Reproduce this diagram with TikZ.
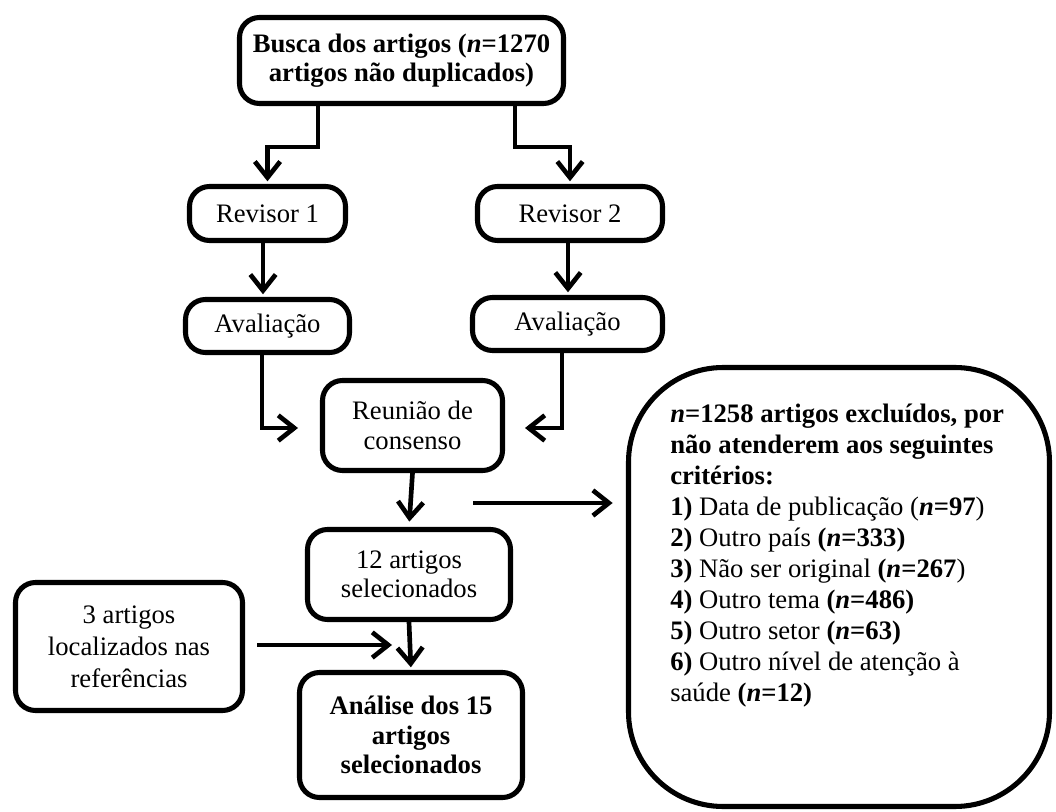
\documentclass[tikz,border=0pt]{standalone}
\usepackage{fontspec}
\setmainfont{Liberation Serif}
\usetikzlibrary{arrows.meta}
\newdimen\pxu \pxu=0.75pt
\begin{document}
\begin{tikzpicture}[x=0.75pt,y=-0.75pt,
  box/.style={draw, line width=3.8pt, rounded corners=15pt, align=center, inner sep=0pt,
    font=\fontsize{20}{22}\selectfont},
  boldbox/.style={box, font=\bfseries\fontsize{20}{22}\selectfont},
  arr/.style={line width=3.5pt, -{Straight Barb[length=12pt,width=19pt]}}]
\useasboundingbox (0,0) rectangle (1056,812);

\node[boldbox, minimum width=324\pxu, minimum height=86\pxu] (busca) at (401.5,60.5)
  {Busca dos artigos (\textit{n}=1270\\artigos não duplicados)};
\node[box, minimum width=156\pxu, minimum height=54\pxu] (rev1) at (267.5,213.5) {Revisor 1};
\node[box, minimum width=185\pxu, minimum height=54\pxu] (rev2) at (570,213.5) {Revisor 2};
\node[box, minimum width=164\pxu, minimum height=53\pxu] (av1) at (267.5,326) {Avaliação};
\node[box, minimum width=190\pxu, minimum height=53\pxu] (av2) at (567.5,324) {Avaliação};
\node[box, minimum width=180\pxu, minimum height=90\pxu] (reun) at (412.5,425.5) {Reunião de\\consenso};
\node[box, minimum width=203\pxu, minimum height=90\pxu] (sel) at (409,574.5) {12 artigos\\selecionados};
\node[box, minimum width=227\pxu, minimum height=128\pxu, font=\fontsize{20}{24}\selectfont] (ref) at (129,646.5)
  {3 artigos\\localizados nas\\referências};
\node[boldbox, minimum width=223\pxu, minimum height=125\pxu] (anal) at (411,735)
  {Análise dos 15\\artigos\\selecionados};
\node[draw, line width=3.8pt, rounded corners=71pt, minimum width=421\pxu, minimum height=439\pxu, inner sep=0pt] (excl) at (839,587) {};
\node[anchor=north west, align=left, inner sep=0pt, font=\fontsize{20}{23.25}\selectfont] (excltext) at (670,404)
  {\textbf{\textit{n}=1258 artigos excluídos, por}\\
   \textbf{não atenderem aos seguintes}\\
   \textbf{critérios:}\\
   \textbf{1)} Data de publicação (\textbf{\textit{n}=97})\\
   \textbf{2)} Outro país \textbf{(\textit{n}=333)}\\
   \textbf{3)} Não ser original \textbf{(\textit{n}=267})\\
   \textbf{4)} Outro tema \textbf{(\textit{n}=486)}\\
   \textbf{5)} Outro setor \textbf{(\textit{n}=63)}\\
   \textbf{6)} Outro nível de atenção à\\
   saúde \textbf{(\textit{n}=12)}};

\coordinate (k1) at (318,147);
\coordinate (k2) at (515,147);
\draw[arr, shorten >=2pt] (busca.south -| k1) -- (k1) -| (rev1.north);
\draw[arr, shorten >=2pt] (busca.south -| k2) -- (k2) -| (rev2.north);
\draw[arr, shorten >=2pt] (rev1.south -| 263,0) -- (av1.north -| 263,0);
\draw[arr, shorten >=2pt] (rev2.south -| 568,0) -- (av2.north -| 568,0);
\coordinate (t1) at (298,428);
\coordinate (t2) at (525,428);
\draw[arr] (av1.south -| 262,0) |- (t1);
\draw[arr] (av2.south -| 562,0) |- (t2);
\draw[arr, shorten >=4pt] (reun.south) -- (sel.north);
\coordinate (h1) at (473,503);
\draw[arr, shorten >=10pt] (h1) -- (h1 -| excl.west);
\coordinate (h3) at (392,645);
\draw[arr, shorten <=9pt] (ref.east |- h3) -- (h3);
\draw[arr, shorten >=2pt] (sel.south) -- (anal.north);
\end{tikzpicture}
\end{document}
